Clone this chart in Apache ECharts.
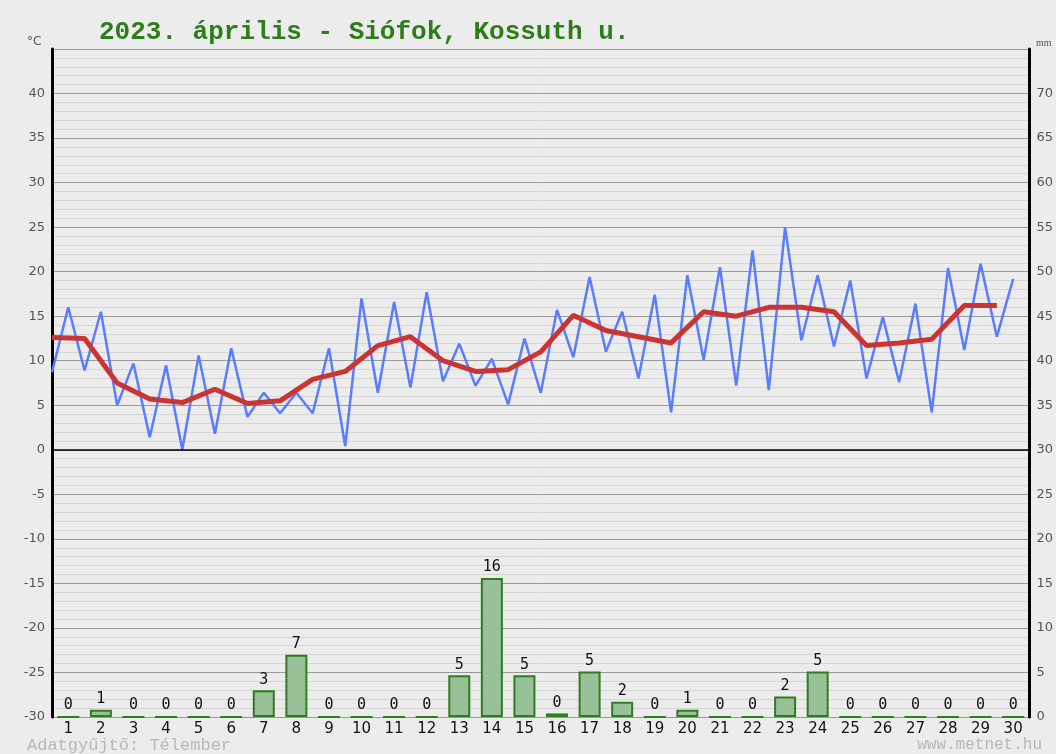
<!DOCTYPE html>
<html>
<head>
<meta charset="utf-8">
<script src="https://cdn.jsdelivr.net/npm/echarts@6/dist/echarts.min.js"></script>
<style>
html,body{margin:0;padding:0;background:#ececec;}
#chart{width:1056px;height:754px;}
</style>
</head>
<body>
<div id="chart"></div>
<script>
// Days of the month (category labels)
const days = ['1','2','3','4','5','6','7','8','9','10','11','12','13','14','15','16','17','18','19','20','21','22','23','24','25','26','27','28','29','30'];
// Half-day temperature readings (°C), first at start of day 1, last at midday of day 30
const tempHalfDay = [8.7,16.0,8.9,15.5,5.0,9.7,1.4,9.5,0.0,10.6,1.8,11.4,3.7,6.4,4.1,6.4,4.1,11.4,0.4,17.0,
  6.4,16.6,7.0,17.7,7.7,11.9,7.2,10.2,5.1,12.5,6.4,15.7,10.4,19.4,11.0,15.5,8.0,17.4,4.2,19.6,
  10.1,20.5,7.2,22.4,6.7,25.0,12.3,19.6,11.6,19.0,8.0,14.9,7.6,16.4,4.2,20.4,11.2,20.9,12.7,19.2];
// Daily mean temperature (°C)
const tempMean = [12.6,12.5,7.5,5.7,5.3,6.8,5.2,5.5,7.9,8.8,11.7,12.7,10.0,8.8,9.0,
  11.0,15.1,13.4,12.7,12.0,15.5,15.0,16.0,16.0,15.5,11.7,12.0,12.4,16.2,16.2];
// Daily precipitation (mm)
const precip = [0,0.8,0,0,0,0,3.0,7.0,0,0,0,0,4.7,15.6,4.7,0.4,5.1,1.7,0,0.8,0,0,2.3,5.1,0,0,0,0,0,0];

// day-time positions of the readings (day d midday = d)
const halfDayTimes = tempHalfDay.map((_, i) => 0.5 + i * 0.5);
const meanTimes = tempMean.map((_, i) => i + 0.5);

const chart = echarts.init(document.getElementById('chart'), null, {renderer: 'canvas'});
const gray = '#555';
chart.setOption({
  backgroundColor: '#ececec',
  animation: false,
  title: {
    text: '2023. április - Siófok, Kossuth u.',
    left: 94, top: 14,
    textStyle: {fontFamily: 'Liberation Mono', fontWeight: 'bold', fontSize: 26, color: '#2d7d1a'}
  },
  grid: {left: 52, right: 26, top: 49, bottom: 37, containLabel: false},
  xAxis: [
    {
      type: 'category', data: days, boundaryGap: true,
      axisLine: {show: false}, axisTick: {show: false}, splitLine: {show: false},
      axisLabel: {color: '#111', fontFamily: 'DejaVu Sans', fontSize: 15, margin: 5, interval: 0}
    },
    {type: 'value', min: 0.5, max: 30.5, show: false}
  ],
  yAxis: [
    {
      type: 'value', min: -30, max: 45, interval: 5, position: 'left',
      axisLine: {show: true, lineStyle: {color: '#000', width: 3}},
      axisTick: {show: false},
      axisLabel: {color: gray, fontFamily: 'DejaVu Sans', fontSize: 13, margin: 7,
        formatter: v => v === 45 ? '' : String(v)},
      splitLine: {show: true, lineStyle: {color: '#9a9a9a', width: 1}},
      minorTick: {show: false, splitNumber: 5},
      minorSplitLine: {show: true, lineStyle: {color: '#d6d6d6', width: 1}}
    },
    {
      type: 'value', min: 0, max: 75, interval: 5, position: 'right',
      axisLine: {show: true, lineStyle: {color: '#000', width: 3}},
      axisTick: {show: false},
      axisLabel: {color: gray, fontFamily: 'DejaVu Sans', fontSize: 13, margin: 7,
        formatter: v => v === 75 ? '' : String(v)},
      splitLine: {show: false}
    }
  ],
  graphic: [
    {type: 'text', left: 27, top: 36, style: {text: '°C', fill: gray, font: '12px DejaVu Sans'}},
    {type: 'text', left: 1036, top: 38, style: {text: 'mm', fill: gray, font: '10px Liberation Serif'}},
    {type: 'text', left: 27, top: 737, style: {text: 'Adatgyűjtő: Télember', fill: '#b8b8b8', font: '17px Liberation Mono'}},
    {type: 'text', right: 14, top: 737, style: {text: 'www.metnet.hu', fill: '#b8b8b8', font: '16px Liberation Mono'}}
  ],
  series: [
    {
      type: 'bar', xAxisIndex: 0, yAxisIndex: 1, data: precip, barWidth: 22,
      itemStyle: {color: '#99c199', borderColor: '#2e7d1e', borderWidth: 2},
      label: {show: true, position: 'top', distance: 3, color: '#111',
        fontFamily: 'DejaVu Sans Mono', fontSize: 15, formatter: p => String(Math.round(p.value))},
      z: 2
    },
    {
      type: 'line', xAxisIndex: 1, yAxisIndex: 0,
      data: halfDayTimes.map((t, i) => [t, tempHalfDay[i]]),
      showSymbol: false, symbol: 'none',
      lineStyle: {color: '#5a7cff', width: 2.5}, z: 3
    },
    {
      type: 'line', xAxisIndex: 1, yAxisIndex: 0,
      data: meanTimes.map((t, i) => [t, tempMean[i]]),
      showSymbol: false, symbol: 'none',
      lineStyle: {color: '#cc3333', width: 5}, z: 4,
      markLine: {silent: true, symbol: 'none', label: {show: false},
        lineStyle: {color: '#000', width: 1.5, type: 'solid'}, data: [{yAxis: 0}]}
    }
  ]
});
</script>
</body>
</html>
